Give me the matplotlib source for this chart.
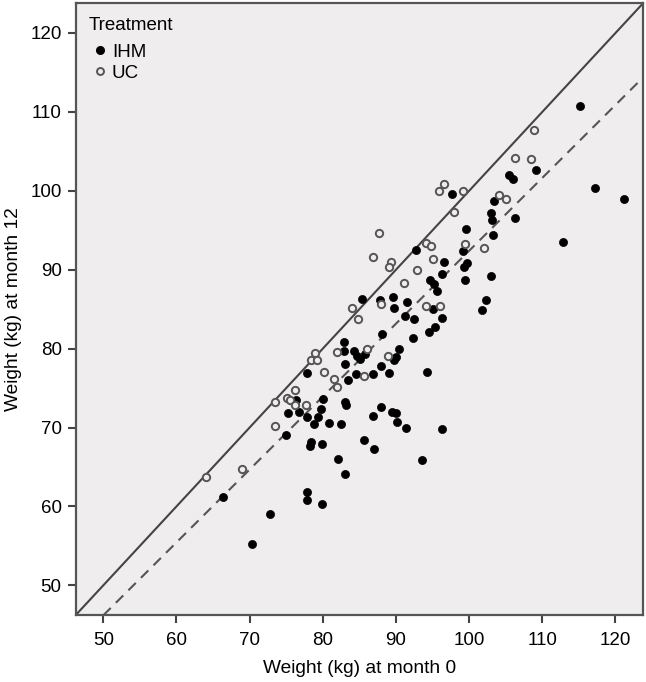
import matplotlib
matplotlib.use("Agg")
import matplotlib.pyplot as plt
from matplotlib.lines import Line2D

plt.rcParams['font.family'] = ['Liberation Sans', 'DejaVu Sans']

# IHM (filled) : weight at month 0, weight at month 12
ihm_x = [115.1, 109.1, 105.5, 106.0, 117.2, 121.1, 97.6, 103.4, 103.0, 103.1,
         106.3, 99.6, 103.2, 112.8, 99.1, 99.7, 99.3, 99.4, 103.0, 102.3,
         101.7, 92.7, 96.5, 96.3, 94.7, 95.2, 95.6, 85.3, 87.8, 89.6,
         89.7, 91.5, 91.3, 92.4, 95.0, 96.3, 95.4, 94.5, 88.1, 92.3,
         90.4, 82.9, 82.85, 84.2, 84.7, 85.1, 85.7, 89.7, 90.05, 83.0,
         87.9, 86.8, 84.5, 89.0, 94.3, 83.5, 80.0, 83.0, 83.1, 87.9,
         89.4, 90.05, 86.8, 79.8, 80.8, 82.5, 90.1, 91.4, 96.3, 79.95,
         85.6, 87.0, 82.1, 93.5, 83.0, 79.85, 75.2, 76.8, 77.8, 79.4,
         78.8, 75.0, 78.4, 78.2, 66.4, 77.85, 77.8, 72.75, 70.3, 77.9,
         76.35]
ihm_y = [110.7, 102.6, 102.0, 101.5, 100.4, 98.9, 99.6, 98.7, 97.2, 96.3,
         96.5, 95.1, 94.4, 93.5, 92.4, 90.8, 90.4, 88.7, 89.2, 86.1,
         84.9, 92.5, 91.0, 89.4, 88.7, 88.2, 87.3, 86.3, 86.1, 86.5,
         85.2, 85.9, 84.1, 83.7, 85.0, 83.9, 82.8, 82.1, 81.8, 81.4,
         79.95, 80.8, 79.7, 79.7, 79.1, 78.7, 79.3, 78.6, 78.9, 78.0,
         77.8, 76.8, 76.8, 76.9, 77.0, 76.0, 73.6, 73.2, 72.9, 72.6,
         72.0, 71.8, 71.5, 72.4, 70.6, 70.4, 70.7, 70.0, 69.8, 67.9,
         68.4, 67.3, 66.0, 65.9, 64.05, 60.3, 71.85, 72.0, 71.3, 71.3,
         70.5, 69.0, 68.2, 67.6, 61.2, 61.8, 60.8, 59.0, 55.2, 76.9,
         73.45]

# UC (open)
uc_x = [108.9, 106.2, 108.4, 99.1, 97.9, 104.1, 105.1, 99.5, 102.0, 96.6,
        95.9, 87.7, 94.1, 94.8, 86.8, 89.3, 89.0, 95.1, 92.9, 91.05,
        88.0, 84.0, 84.8, 94.1, 96.0, 82.0, 86.05, 88.9, 85.6, 80.2,
        81.5, 82.0, 73.4, 69.0, 64.0, 78.9, 78.35, 79.2, 76.2, 75.1,
        75.5, 76.2, 77.7, 73.5]
uc_y = [107.7, 104.2, 104.05, 100.0, 97.3, 99.5, 98.9, 93.2, 92.7, 100.9,
        99.95, 94.6, 93.4, 93.0, 91.6, 91.0, 90.4, 91.4, 89.9, 88.3,
        85.6, 85.2, 83.7, 85.35, 85.35, 79.6, 80.0, 79.0, 76.5, 77.0,
        76.15, 75.1, 70.25, 64.7, 63.7, 79.5, 78.5, 78.5, 74.8, 73.75,
        73.5, 72.9, 72.9, 73.2]

# Fitted regression line (month 12 = slope * month 0 + intercept)
reg_slope = 0.924
reg_intercept = 0.0

ticks = [50, 60, 70, 80, 90, 100, 110, 120]
x_label = "Weight (kg) at month 0"
y_label = "Weight (kg) at month 12"
legend_title = "Treatment"
group_names = ["IHM", "UC"]

fig = plt.figure(figsize=(6.46, 6.82), dpi=100)
ax = fig.add_axes([0.1169, 0.0978, 0.8789, 0.8978])
ax.set_facecolor('#efedee')

lo, hi = 46.2, 123.8
ax.set_xlim(lo, hi)
ax.set_ylim(lo, hi)

ax.axline((50, 50), slope=1.0, color='#444444', lw=1.5, zorder=2)
ax.axline((0, reg_intercept), slope=reg_slope, color='#555555', lw=1.5,
          linestyle=(0, (5, 3.5)), zorder=2)

ax.scatter(ihm_x, ihm_y, s=34, color='black', edgecolors='black',
           linewidths=0.5, zorder=3)
ax.scatter(uc_x, uc_y, s=28, facecolors='#efedee', edgecolors='#555555',
           linewidths=1.4, zorder=3)

ax.set_xticks(ticks)
ax.set_yticks(ticks)
ax.tick_params(axis='both', direction='out', length=6, width=1.5,
               color='#444444', labelsize=13.5)
ax.tick_params(axis='x', pad=6)
ax.tick_params(axis='y', pad=4)
for s in ax.spines.values():
    s.set_color('#555555')
    s.set_linewidth(1.6)

ax.set_xlabel(x_label, fontsize=13.8, labelpad=8)
ax.set_ylabel(y_label, fontsize=13.8, labelpad=6)

handles = [
    Line2D([], [], marker='o', linestyle='none', markersize=5.5,
           markerfacecolor='black', markeredgecolor='black'),
    Line2D([], [], marker='o', linestyle='none', markersize=5.0,
           markerfacecolor='#efedee', markeredgecolor='#555555',
           markeredgewidth=1.4),
]
ax.text(0.0238, 0.9625, legend_title, transform=ax.transAxes,
        fontsize=13.5, ha='left', va='center')
leg = ax.legend(handles, group_names, loc='upper left',
                bbox_to_anchor=(0.026, 0.934), frameon=False, fontsize=13.5,
                handlelength=1.0, handletextpad=0.15, labelspacing=0.22,
                borderaxespad=0.0, borderpad=0.0)

fig.savefig('out.png', dpi=100)
